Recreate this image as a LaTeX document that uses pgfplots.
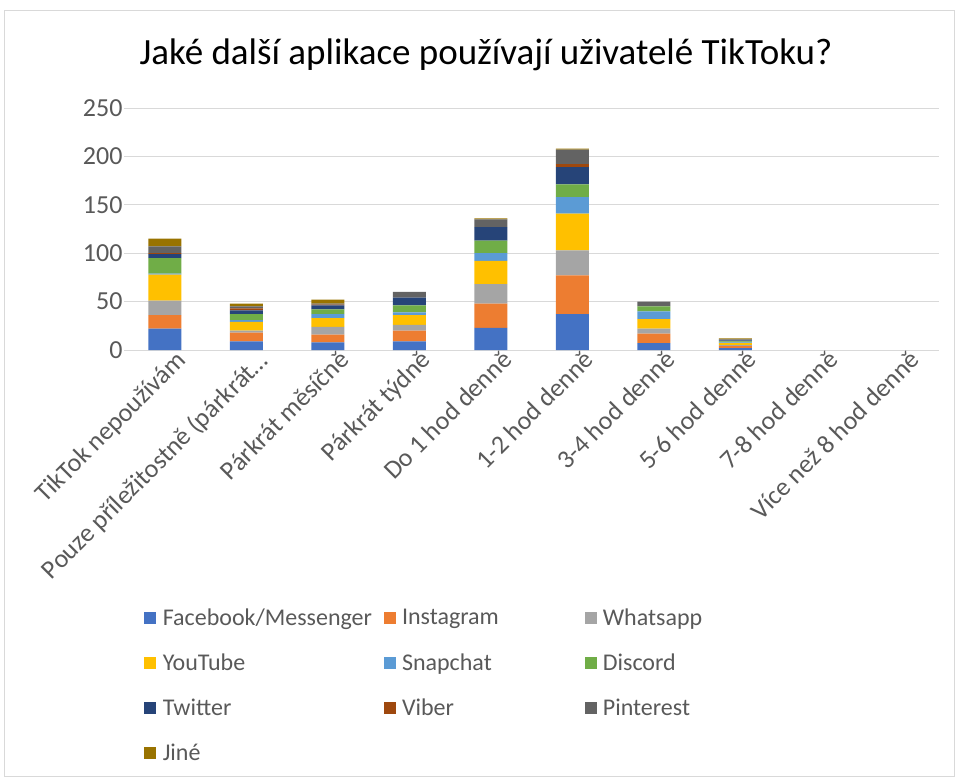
\documentclass[border=0pt]{standalone}
\usepackage{pgfplots}
\pgfplotsset{compat=1.18}
\usepackage{pgfplotstable}
\usepackage{fontspec}
\setmainfont{Carlito}
\definecolor{cFB}{HTML}{4472C4}
\definecolor{cIG}{HTML}{ED7D31}
\definecolor{cWA}{HTML}{A5A5A5}
\definecolor{cYT}{HTML}{FFC000}
\definecolor{cSC}{HTML}{5B9BD5}
\definecolor{cDC}{HTML}{70AD47}
\definecolor{cTW}{HTML}{264478}
\definecolor{cVB}{HTML}{9E480E}
\definecolor{cPI}{HTML}{636363}
\definecolor{cJI}{HTML}{997300}
\definecolor{txt}{HTML}{595959}
\definecolor{grd}{HTML}{D9D9D9}

% x FB IG WA YT SC DC TW VB PI JI
\pgfplotstableread{
x fb ig wa yt sc dc tw vb pi ji
0 22 14 15 27 1 16 4 1 7 8
1 9 9 2 9 2 6 4 2 2 3
2 8 8 8 9 4 5 4 1 1 4
3 9 11 6 10 3 7 8 0 6 0
4 23 25 20 24 8 13 14 0 8 1
5 37 40 26 38 17 13 18 3 15 1
6 7 10 5 10 8 5 0 0 5 0
7 2 2 1 2 1 1 1 0 1 1
8 0 0 0 0 0 0 0 0 0 0
9 0 0 0 0 0 0 0 0 0 0
}\data

\begin{document}
\begin{tikzpicture}[x=1pt,y=1pt]
\useasboundingbox (0,0) rectangle (957,-780);
\draw[grd,line width=1pt] (4,-10) rectangle (954,-776);
\node[font=\fontsize{37}{44}\selectfont,text=black] at (486,-55) {Jaké další aplikace používají uživatelé TikToku?};
\begin{axis}[
  at={(124pt,-350pt)},anchor=south west,
  scale only axis,width=815pt,height=242pt,
  ybar stacked,bar width=33pt,
  xmin=-0.5,xmax=9.5,ymin=0,ymax=250,
  ytick={0,50,...,250},
  xtick={0,...,9},
  xticklabels={TikTok nepoužívám,Pouze příležitostně (párkrát…,Párkrát měsíčně,Párkrát týdně,Do 1 hod denně,1-2 hod denně,3-4 hod denně,5-6 hod denně,7-8 hod denně,Více než 8 hod denně},
  x tick label style={rotate=45,anchor=north east,inner sep=1pt,xshift=9pt,yshift=-5pt},
  y tick label style={xshift=2pt},
  ticklabel style={font=\fontsize{26}{30}\selectfont,text=txt},
  /pgf/number format/assume math mode=true,
  major tick length=0pt,
  axis line style={draw=none},
  ymajorgrids,grid style={grd,line width=1pt},
  legend columns=3,
  legend cell align=left,
  legend style={at={(0.024,-1.06)},anchor=north west,draw=none,fill=none,
    font=\fontsize{24}{28}\selectfont,text=txt,inner sep=0pt,
    row sep=23pt,
    /tikz/column 1/.style={column sep=5pt},
    /tikz/column 2/.style={column sep=10pt},
    /tikz/column 3/.style={column sep=4pt},
    /tikz/column 4/.style={column sep=84pt},
    /tikz/column 5/.style={column sep=4pt}},
  legend image code/.code={\fill[#1] (0pt,-6pt) rectangle (12pt,6pt);},
]
\addplot[fill=cFB,draw=none] table[x=x,y=fb]{\data};
\addplot[fill=cIG,draw=none] table[x=x,y=ig]{\data};
\addplot[fill=cWA,draw=none] table[x=x,y=wa]{\data};
\addplot[fill=cYT,draw=none] table[x=x,y=yt]{\data};
\addplot[fill=cSC,draw=none] table[x=x,y=sc]{\data};
\addplot[fill=cDC,draw=none] table[x=x,y=dc]{\data};
\addplot[fill=cTW,draw=none] table[x=x,y=tw]{\data};
\addplot[fill=cVB,draw=none] table[x=x,y=vb]{\data};
\addplot[fill=cPI,draw=none] table[x=x,y=pi]{\data};
\addplot[fill=cJI,draw=none] table[x=x,y=ji]{\data};
\legend{Facebook/Messenger,Instagram,Whatsapp,YouTube,Snapchat,Discord,Twitter,Viber,Pinterest,Jiné}
\end{axis}
\end{tikzpicture}
\end{document}
